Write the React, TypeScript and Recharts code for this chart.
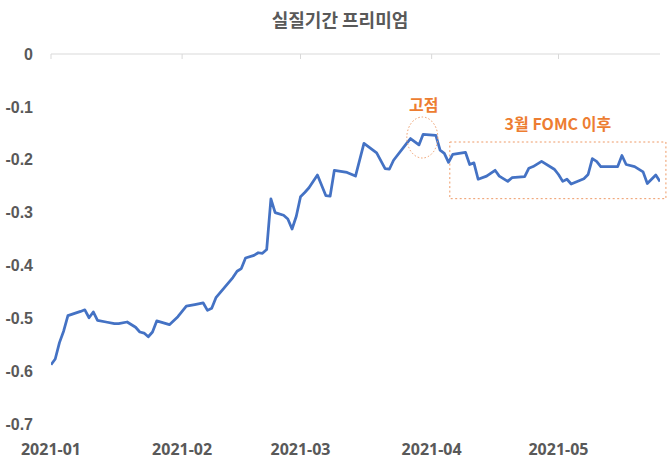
import React from "react";
import {
  LineChart,
  Line,
  XAxis,
  YAxis,
  ReferenceArea,
  ReferenceDot,
  ReferenceLine,
} from "recharts";

const dates = [
  "2021-01-04", "2021-01-05", "2021-01-06", "2021-01-07", "2021-01-08",
  "2021-01-11", "2021-01-12", "2021-01-13", "2021-01-14", "2021-01-15",
  "2021-01-17", "2021-01-19", "2021-01-20", "2021-01-22", "2021-01-24",
  "2021-01-25", "2021-01-26", "2021-01-27", "2021-01-28", "2021-01-29",
  "2021-02-01", "2021-02-03", "2021-02-04", "2021-02-05", "2021-02-07",
  "2021-02-09", "2021-02-10", "2021-02-11", "2021-02-12", "2021-02-14",
  "2021-02-16", "2021-02-17", "2021-02-18", "2021-02-19", "2021-02-21",
  "2021-02-22", "2021-02-23", "2021-02-24", "2021-02-25", "2021-02-26",
  "2021-02-28", "2021-03-01", "2021-03-02", "2021-03-03", "2021-03-04",
  "2021-03-05", "2021-03-06", "2021-03-08", "2021-03-10", "2021-03-11",
  "2021-03-12", "2021-03-15", "2021-03-17", "2021-03-19", "2021-03-22",
  "2021-03-24", "2021-03-25", "2021-03-26", "2021-03-29", "2021-03-30",
  "2021-04-01", "2021-04-02", "2021-04-05", "2021-04-06", "2021-04-07",
  "2021-04-08", "2021-04-09", "2021-04-12", "2021-04-13", "2021-04-14",
  "2021-04-15", "2021-04-17", "2021-04-19", "2021-04-20", "2021-04-22",
  "2021-04-23", "2021-04-26", "2021-04-27", "2021-04-28", "2021-04-30",
  "2021-05-03", "2021-05-04", "2021-05-05", "2021-05-06", "2021-05-07",
  "2021-05-10", "2021-05-11", "2021-05-12", "2021-05-13", "2021-05-14",
  "2021-05-18", "2021-05-19", "2021-05-20", "2021-05-22", "2021-05-24",
  "2021-05-25", "2021-05-27", "2021-05-28",
];

const premium = [
  -0.588, -0.577, -0.546, -0.524, -0.495,
  -0.487, -0.484, -0.499, -0.488, -0.504,
  -0.507, -0.51, -0.51, -0.507, -0.517,
  -0.526, -0.528, -0.535, -0.526, -0.505,
  -0.512, -0.497, -0.487, -0.477, -0.474,
  -0.471, -0.485, -0.481, -0.461, -0.442,
  -0.423, -0.411, -0.406, -0.386, -0.381,
  -0.376, -0.377, -0.37, -0.274, -0.3,
  -0.305, -0.312, -0.331, -0.307, -0.27,
  -0.262, -0.253, -0.229, -0.268, -0.269,
  -0.22, -0.224, -0.231, -0.169, -0.187,
  -0.217, -0.218, -0.201, -0.17, -0.16,
  -0.172, -0.152, -0.154, -0.182, -0.188,
  -0.205, -0.19, -0.186, -0.209, -0.206,
  -0.237, -0.231, -0.22, -0.231, -0.241,
  -0.234, -0.232, -0.216, -0.213, -0.203,
  -0.218, -0.228, -0.241, -0.237, -0.246,
  -0.236, -0.228, -0.198, -0.203, -0.213,
  -0.213, -0.192, -0.209, -0.213, -0.223,
  -0.245, -0.229, -0.241,
];

const tickDates = ["2021-01-04", "2021-02-04", "2021-03-04", "2021-04-04", "2021-05-04"];
const tickLabels = ["2021-01", "2021-02", "2021-03", "2021-04", "2021-05"];
const yTicks = [0, -0.1, -0.2, -0.3, -0.4, -0.5, -0.6, -0.7];
const axisCrossValue = 0;
const tickMarkLength = 0.0095; // in value units (~5px)

// annotation anchors (data coordinates)
const peakCenter = { date: "2021-04-01", dayShift: 0.8, value: -0.158 };
const fomcBox = { x1Date: "2021-04-08", x1Shift: 0.3, x2Date: "2021-05-28", x2Shift: 1.4, y1: -0.1665, y2: -0.2737 };

const DAY = 86400000;
const base = Date.UTC(2021, 0, 4);
const toDay = (s: string) => {
  const [y, m, d] = s.split("-").map(Number);
  return Math.round((Date.UTC(y, m - 1, d) - base) / DAY);
};

const data = dates.map((d, i) => ({ x: toDay(d), v: premium[i] }));
const tickDays = tickDates.map(toDay);
const xMin = toDay(dates[0]);
const xMax = toDay(dates[dates.length - 1]);

const GRAY = "#595959";
const AXIS = "#D9D9D9";
const ORANGE = "#ED7D31";
const KR = "'Noto Sans CJK KR', 'Noto Sans', sans-serif";

const PeakShape = (props: any) => {
  const { cx, cy } = props;
  if (cx == null || cy == null) return null;
  return (
    <g>
      <ellipse
        cx={cx}
        cy={cy}
        rx={15.5}
        ry={20.5}
        fill="none"
        stroke="#EE9A66"
        strokeWidth={1}
        strokeDasharray="1.5 2"
      />
      <text
        x={cx + 1.5}
        y={cy - 34}
        textAnchor="middle"
        dominantBaseline="central"
        fill={ORANGE}
        fontSize={16}
        fontWeight="bold"
        fontFamily={KR}
      >
        고점
      </text>
    </g>
  );
};

export default function App() {
  return (
    <div style={{ position: "absolute", left: 0, top: 0, width: 668, height: 460, background: "#fff" }}>
      <div
        style={{
          position: "absolute",
          left: 0,
          top: 9,
          width: 680,
          height: 20,
          lineHeight: "20px",
          textAlign: "center",
          fontFamily: KR,
          fontWeight: "bold",
          fontSize: 18,
          color: GRAY,
        }}
      >
        실질기간 프리미엄
      </div>
      <LineChart
        width={668}
        height={460}
        data={data}
        margin={{ top: 54, right: 8, bottom: 0, left: 0 }}
      >
        <XAxis
          orientation="bottom"
          type="number"
          dataKey="x"
          domain={[xMin, xMax]}
          allowDataOverflow
          ticks={tickDays}
          tickFormatter={(v: number) => tickLabels[tickDays.indexOf(v)] ?? ""}
          axisLine={false}
          tickLine={false}
          tickMargin={14}
          height={36}
          tick={{ fill: GRAY, fontSize: 16, fontWeight: "bold", fontFamily: "'Noto Sans', sans-serif" }}
        />
        <YAxis
          type="number"
          domain={[-0.7, 0]}
          allowDataOverflow
          ticks={yTicks}
          tickFormatter={(v: number) => (v === 0 ? "0" : v.toFixed(1))}
          axisLine={false}
          tickLine={false}
          tickMargin={12}
          width={51}
          tick={{ fill: GRAY, fontSize: 16, fontWeight: "bold", fontFamily: "'Liberation Sans', Arial, sans-serif" }}
        />
        <ReferenceLine y={axisCrossValue} stroke={AXIS} strokeWidth={1} ifOverflow="visible" />
        {tickDays.map((t) => (
          <ReferenceLine
            key={t}
            segment={[
              { x: t, y: axisCrossValue },
              { x: t, y: axisCrossValue - tickMarkLength },
            ]}
            stroke={AXIS}
            strokeWidth={1}
            ifOverflow="visible"
          />
        ))}
        <ReferenceArea
          x1={toDay(fomcBox.x1Date) + fomcBox.x1Shift}
          x2={toDay(fomcBox.x2Date) + fomcBox.x2Shift}
          y1={fomcBox.y1}
          y2={fomcBox.y2}
          ifOverflow="visible"
          fill="none"
          fillOpacity={0}
          stroke="#EE9A66"
          strokeWidth={1}
          strokeDasharray="2 2.5"
          label={{
            value: "3월 FOMC 이후",
            position: "top",
            offset: 12,
            fill: ORANGE,
            fontSize: 16,
            fontWeight: "bold",
            fontFamily: KR,
          }}
        />
        <Line
          type="linear"
          dataKey="v"
          stroke="#4472C4"
          strokeWidth={2.75}
          strokeLinejoin="round"
          dot={false}
          activeDot={false}
          isAnimationActive={false}
        />
        <ReferenceDot
          x={toDay(peakCenter.date) + peakCenter.dayShift}
          y={peakCenter.value}
          ifOverflow="visible"
          shape={PeakShape}
        />
      </LineChart>
    </div>
  );
}
